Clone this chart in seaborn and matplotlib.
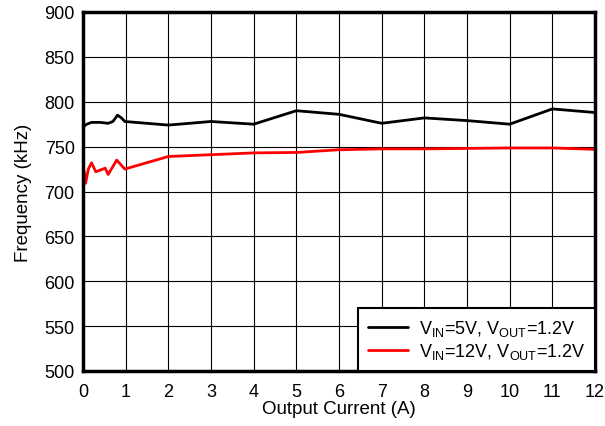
import matplotlib
matplotlib.use("Agg")
import matplotlib.pyplot as plt
import seaborn as sns
import pandas as pd

sns.set_style("white")
plt.rcParams['font.family'] = ['Liberation Sans', 'DejaVu Sans']
plt.rcParams['mathtext.fontset'] = 'custom'
plt.rcParams['mathtext.rm'] = 'Liberation Sans'
for k in ['text.color', 'axes.labelcolor', 'xtick.color', 'ytick.color']:
    plt.rcParams[k] = 'black'

# Data
i_5v = [0.0, 0.09, 0.2, 0.4, 0.59, 0.7, 0.81, 0.9, 0.98, 2, 3, 4, 5, 6, 7, 8, 9, 10, 11, 12]
f_5v = [772, 775, 777, 777, 776, 778, 785, 782, 778, 774, 778, 775, 790, 786, 776, 782, 779, 775, 792, 788]

i_12v = [0.03, 0.06, 0.125, 0.2, 0.3, 0.52, 0.59, 0.79, 0.98, 2, 3, 4, 5, 6, 7, 8, 9, 10, 11, 12]
f_12v = [722, 709, 725, 732, 722, 726, 719, 735, 725, 739, 741, 743, 743.5, 746.5, 747.5, 747.5, 748, 748.5, 748.5, 747]

labels = [r'V$_{\mathregular{IN}}$=5V, V$_{\mathregular{OUT}}$=1.2V',
          r'V$_{\mathregular{IN}}$=12V, V$_{\mathregular{OUT}}$=1.2V']
colors = ['#000000', '#ff0000']

x_ticks = list(range(0, 13))
y_ticks = list(range(500, 901, 50))

df = pd.concat([
    pd.DataFrame({'I': i_5v, 'F': f_5v, 'series': labels[0]}),
    pd.DataFrame({'I': i_12v, 'F': f_12v, 'series': labels[1]}),
])

fig = plt.figure(figsize=(6.05, 4.27), dpi=100)
ax = fig.add_axes([83/605, 1-372/427, (595-83)/605, (372-13)/427])

sns.lineplot(data=df, x='I', y='F', hue='series', palette=colors, ax=ax,
             linewidth=2, sort=False, estimator=None, legend=True)

ax.set_xlim(0, 12)
ax.set_ylim(500, 900)
ax.set_xticks(x_ticks)
ax.set_yticks(y_ticks)
ax.grid(True, color='black', linewidth=0.8)
ax.tick_params(length=0, labelsize=13, labelcolor='black')
ax.tick_params(axis='x', pad=9)
ax.tick_params(axis='y', pad=6)
for s in ax.spines.values():
    s.set_linewidth(2.5)
    s.set_color('black')
ax.set_xlabel('Output Current (A)', fontsize=13.5, labelpad=0, color='black')
ax.set_ylabel('Frequency (kHz)', fontsize=13.5, labelpad=9, color='black')

handles, _ = ax.get_legend_handles_labels()
leg = ax.legend(handles=handles, labels=labels, loc='lower right', fontsize=13,
                frameon=True, fancybox=False, edgecolor='black', framealpha=1,
                borderaxespad=0, handlelength=2.2, handletextpad=0.6,
                borderpad=0.55, labelspacing=0.15)
leg.get_frame().set_linewidth(1.5)
for t in leg.get_texts():
    t.set_color('black')
for l in leg.get_lines():
    l.set_linewidth(2)

fig.savefig('out.png', dpi=100)
